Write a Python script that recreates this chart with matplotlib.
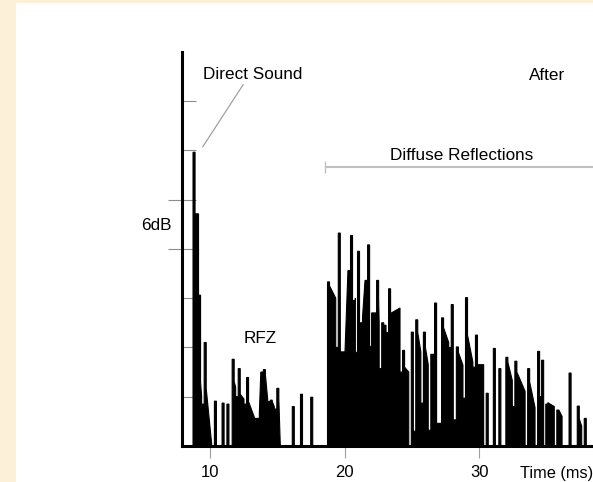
import matplotlib
matplotlib.use("Agg")
import matplotlib.pyplot as plt
from matplotlib.patches import Rectangle

plt.rcParams['font.family'] = ['Liberation Sans', 'DejaVu Sans']

# -------------------------------------------------------
# Data: reflections
# onset time (ms), peak level, level right after the spike,
# level reached before the next onset, depth of the gap before the next onset
# (levels in tick units, 1 unit = 1.5 dB)
# -------------------------------------------------------
ev_time = [8.72, 9.13, 9.55, 10.31, 10.88, 11.24, 11.63, 12.08, 12.70, 13.50,
           13.95, 14.46, 14.95, 15.40, 16.10, 16.71, 17.02, 17.47,
           18.72, 19.52, 19.87, 20.43, 20.64, 20.95, 21.17, 21.70, 22.00, 22.37,
           22.75, 23.26, 24.30, 24.95, 25.28, 25.85, 26.40, 26.68, 27.20, 27.92,
           28.30, 28.98, 29.72, 30.52, 31.05, 31.46, 31.98, 32.65, 33.60, 34.34,
           34.64, 34.95, 35.77, 36.35, 36.68, 37.29, 37.81]
ev_peak = [5.96, 3.06, 2.10, 0.91, 0.87, 0.85, 1.76, 1.57, 1.39, 0.56,
           1.55, 0.93, 1.17, 0.00, 0.80, 1.05, 0.00, 0.99,
           3.33, 4.32, 1.91, 4.27, 2.95, 3.95, 2.50, 4.08, 2.70, 3.36,
           2.50, 3.19, 1.94, 2.31, 2.56, 2.31, 1.86, 2.90, 2.60, 2.87,
           2.01, 3.01, 2.25, 1.07, 1.98, 1.57, 1.80, 1.72, 1.57, 1.92,
           1.74, 0.85, 0.73, 0.00, 1.48, 0.81, 0.56]
ev_shoulder = [4.71, 1.30, 1.17, 0.00, 0.00, 0.00, 1.30, 1.05, 0.90, 0.65,
               1.45, 0.90, 0.95, 0.00, 0.00, 0.60, 0.00, 0.00,
               3.25, 1.91, 1.91, 2.08, 2.95, 1.88, 2.60, 3.20, 2.70, 3.00,
               2.45, 2.69, 1.60, 0.30, 2.30, 2.00, 1.86, 0.46, 2.40, 0.53,
               1.90, 2.25, 1.65, 0.00, 0.00, 0.00, 1.70, 1.50, 1.30, 1.00,
               1.20, 0.88, 0.73, 0.00, 0.00, 0.55, 0.50]
ev_floor = [4.71, 1.00, 0.00, 0.00, 0.00, 0.00, 1.20, 0.95, 0.56, 1.50,
            0.95, 0.80, 0.00, 0.00, 0.00, 0.00, 0.00, 0.00,
            3.00, 1.91, 3.56, 2.08, 3.00, 1.88, 3.36, 2.90, 2.70, 2.50,
            2.45, 2.80, 1.50, 0.30, 1.91, 1.65, 1.86, 0.46, 2.10, 0.53,
            1.64, 1.70, 1.65, 0.00, 0.00, 0.00, 1.33, 1.11, 0.78, 1.00,
            0.30, 0.80, 0.60, 0.00, 0.00, 0.40, 0.00]
ev_notch = [4.71, 0.85, 0.00, 0.00, 0.00, 0.00, 1.00, 0.85, 0.56, 1.50,
            0.90, 0.75, 0.00, 0.00, 0.00, 0.00, 0.00, 0.00,
            2.00, 1.91, 3.56, 2.08, 1.90, 1.88, 3.36, 2.02, 2.70, 1.57,
            2.30, 1.50, 0.00, 0.30, 0.87, 0.32, 1.86, 0.46, 2.00, 0.53,
            0.97, 1.60, 0.00, 0.00, 0.00, 0.00, 0.80, 0.00, 0.00, 1.00,
            0.00, 0.00, 0.00, 0.00, 0.00, 0.00, 0.00]
tail_end = 38.15

x_ticks = [10, 20, 30]
y_ticks_short = [1, 2, 3, 6, 7]
y_ticks_long = [4, 5]
t_min, t_max = 7.9, 38.46
y_max = 8
diffuse_start = 18.53

SPIKE_W = 0.15
GAP_W = 0.19

# -------------------------------------------------------
# Build the outline of the response
# -------------------------------------------------------
vx = [t_min, ev_time[0]]
vy = [0, 0]
for i, t in enumerate(ev_time):
    t_next = ev_time[i + 1] if i + 1 < len(ev_time) else tail_end
    t_top = t + SPIKE_W
    t_gap = max(t_top, t_next - GAP_W)
    vx += [t, t_top, t_top, t_gap, t_gap, t_next]
    vy += [ev_peak[i], ev_peak[i], ev_shoulder[i], ev_floor[i], ev_notch[i], ev_notch[i]]
vx += [tail_end, t_max]
vy += [0, 0]

# -------------------------------------------------------
# Figure
# -------------------------------------------------------
W, H = 593, 482
fig = plt.figure(figsize=(W / 100, H / 100), dpi=100, facecolor="#fcf0d8")
bg = fig.add_axes([16 / W, 0, 1 - 16 / W, (H - 3) / H], zorder=-5)
bg.set_axis_off()
bg.add_patch(Rectangle((0, 0), 1, 1, transform=bg.transAxes,
                       facecolor="white", edgecolor="none"))

ax = fig.add_axes([182 / W, 1 - 446 / H, (W - 182) / W, (446 - 51.7) / H])
ax.set_facecolor("none")
ax.fill(vx, vy, facecolor="black", edgecolor="black", linewidth=0.8,
        joinstyle="miter", zorder=2)

ax.set_xlim(t_min, t_max)
ax.set_ylim(0, y_max)

for s in ["top", "right"]:
    ax.spines[s].set_visible(False)
ax.spines["left"].set_linewidth(2.2)
ax.spines["bottom"].set_linewidth(2.2)
ax.spines["left"].set_zorder(3)
ax.spines["bottom"].set_zorder(3)

ax.set_xticks(x_ticks)
ax.tick_params(axis="x", direction="out", length=8.6, width=0.8,
               color="#a0a0a0", labelsize=12, pad=5)
ax.set_yticks(y_ticks_long)
ax.set_yticks(y_ticks_short, minor=True)
ax.tick_params(axis="y", which="major", direction="inout", length=20.4,
               width=0.8, color="#8c8c8c", labelleft=False)
ax.tick_params(axis="y", which="minor", direction="in", length=10.2,
               width=0.8, color="#8c8c8c")

# -------------------------------------------------------
# Labels
# -------------------------------------------------------
ax.annotate("Direct Sound", xy=(ev_time[0] + 0.72, ev_peak[0] + 0.11),
            xytext=(9.48, 7.45), fontsize=12.3, ha="left", va="baseline",
            arrowprops=dict(arrowstyle="-", color="#a0a0a0", lw=0.9,
                            relpos=(0.43, 0.1), shrinkA=0, shrinkB=0))
ax.text(33.72, 7.43, "After", fontsize=12.3, ha="left", va="baseline")
ax.text(28.68, 5.80, "Diffuse Reflections", fontsize=12.3, ha="center", va="baseline")
ax.hlines(5.67, diffuse_start, t_max, color="#c0c0c0", lw=1.5, clip_on=False)
ax.vlines(diffuse_start, 5.53, 5.78, color="#c0c0c0", lw=1.0)
ax.text(12.51, 2.09, "RFZ", fontsize=12.3, ha="left", va="baseline")
ax.text(7.13, 4.38, "6dB", fontsize=12.3, ha="right", va="baseline", clip_on=False)
ax.text(33.03, -0.65, "Time (ms)", fontsize=11.8, ha="left", va="baseline", clip_on=False)

fig.savefig("out.png", dpi=100, facecolor=fig.get_facecolor())
